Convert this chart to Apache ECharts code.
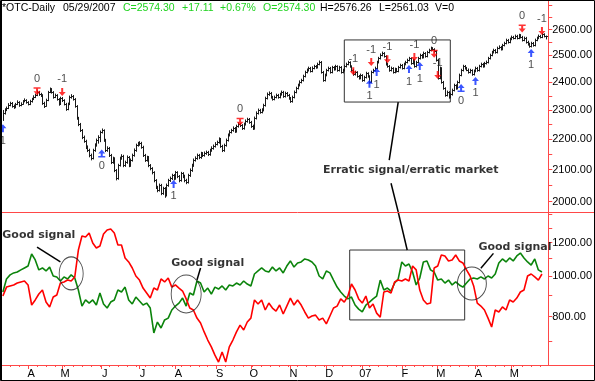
<!DOCTYPE html>
<html><head><meta charset="utf-8">
<script src="https://cdn.jsdelivr.net/npm/echarts@6/dist/echarts.min.js"></script>
<style>html,body{margin:0;padding:0;background:#fff;}#c{width:595px;height:381px;}</style>
</head><body><div id="c"></div>
<script>
// ---------- DATA ----------
// daily sessions, 2006-03 .. 2007-05-29 (index = session number)
const closes = [
2289,2300,2307,2317,2324,2314,2310,2321,2328,2317,
2321,2331,2335,2328,2321,2331,2339,2346,2353,2364,
2356,2353,2324,2314,2335,2364,2375,2364,2346,2353,
2339,2321,2342,2335,2321,2303,2321,2346,2349,2339,
2314,2272,2251,2230,2207,2194,2174,2163,2147,2137,
2163,2180,2197,2207,2224,2230,2197,2163,2170,2147,
2124,2137,2098,2072,2114,2137,2144,2114,2124,2140,
2114,2131,2147,2163,2180,2184,2187,2174,2147,2131,
2140,2114,2104,2091,2066,2045,2035,2051,2026,2041,
2020,2051,2066,2072,2082,2072,2091,2079,2066,2088,
2079,2066,2060,2082,2098,2114,2131,2137,2147,2140,
2153,2147,2153,2157,2150,2163,2170,2177,2184,2190,
2200,2177,2163,2180,2197,2214,2224,2230,2237,2227,
2244,2251,2247,2237,2251,2261,2268,2258,2244,2237,
2272,2289,2300,2293,2300,2317,2342,2356,2360,2346,
2339,2346,2353,2346,2356,2364,2349,2360,2353,2342,
2331,2346,2364,2378,2389,2400,2407,2422,2437,2444,
2452,2441,2452,2459,2455,2467,2474,2437,2407,2426,
2444,2452,2437,2455,2448,2459,2444,2455,2437,2444,
2459,2467,2474,2459,2444,2429,2437,2422,2415,2426,
2407,2418,2433,2422,2400,2437,2444,2452,2474,2489,
2501,2509,2497,2467,2459,2444,2452,2437,2448,2441,
2455,2463,2452,2467,2474,2482,2489,2470,2482,2459,
2474,2489,2501,2493,2509,2497,2512,2520,2528,2524,
2516,2482,2415,2452,2400,2378,2353,2364,2346,2356,
2371,2389,2378,2400,2426,2444,2459,2452,2446,2437,
2444,2429,2441,2452,2444,2459,2467,2459,2470,2474,
2489,2501,2512,2520,2512,2528,2532,2524,2539,2547,
2559,2551,2563,2571,2567,2575,2567,2578,2571,2559,
2567,2551,2543,2535,2547,2539,2559,2567,2575,2571,
2582,2575,2574.30];
const highs = [
2300,2306,2312,2324,2329,2328,2319,2325,2334,2331,
2327,2335,2341,2338,2331,2336,2343,2352,2358,2370,
2368,2361,2356,2329,2340,2368,2380,2378,2367,2358,
2356,2342,2347,2346,2338,2325,2326,2351,2356,2353,
2342,2317,2276,2255,2234,2212,2198,2179,2168,2152,
2168,2186,2202,2213,2229,2236,2233,2201,2176,2174,
2151,2142,2140,2102,2119,2142,2150,2148,2129,2146,
2144,2136,2152,2169,2185,2191,2193,2191,2178,2151,
2145,2144,2118,2108,2095,2070,2049,2056,2055,2046,
2045,2056,2071,2078,2087,2086,2096,2095,2083,2093,
2092,2084,2071,2087,2104,2119,2136,2143,2152,2151,
2158,2157,2159,2162,2161,2168,2176,2182,2190,2195,
2206,2204,2181,2185,2202,2219,2230,2235,2243,2241,
2249,2257,2255,2251,2256,2267,2273,2272,2262,2249,
2277,2295,2305,2304,2306,2322,2347,2362,2366,2364,
2350,2351,2358,2357,2361,2369,2368,2365,2364,2357,
2346,2351,2369,2383,2394,2406,2412,2427,2442,2450,
2457,2456,2458,2464,2463,2472,2480,2478,2441,2431,
2449,2457,2456,2460,2459,2464,2462,2460,2459,2449,
2464,2472,2479,2477,2462,2448,2442,2440,2426,2431,
2429,2423,2438,2436,2425,2442,2449,2457,2479,2494,
2507,2514,2512,2500,2471,2463,2457,2455,2453,2452,
2460,2468,2467,2472,2479,2487,2494,2492,2487,2486,
2479,2494,2506,2505,2514,2512,2517,2525,2533,2531,
2527,2519,2486,2457,2455,2404,2381,2369,2367,2361,
2376,2394,2392,2405,2431,2449,2464,2463,2456,2450,
2449,2447,2446,2457,2456,2464,2472,2471,2475,2480,
2494,2506,2517,2525,2524,2533,2538,2536,2544,2552,
2564,2563,2568,2576,2575,2580,2579,2583,2582,2575,
2572,2571,2556,2548,2552,2551,2564,2572,2580,2579,
2587,2585,2576.26];
const lows = [
2262,2284,2296,2303,2313,2308,2304,2306,2317,2311,
2313,2318,2327,2322,2316,2317,2326,2335,2342,2349,
2350,2346,2318,2307,2311,2331,2360,2358,2340,2342,
2333,2315,2318,2328,2316,2297,2299,2317,2340,2333,
2308,2266,2244,2224,2200,2188,2167,2157,2140,2130,
2133,2158,2175,2185,2190,2219,2191,2157,2158,2141,
2118,2119,2092,2066,2068,2110,2132,2108,2109,2119,
2108,2109,2126,2142,2158,2175,2178,2168,2141,2125,
2126,2108,2098,2085,2060,2039,2029,2031,2020,2021,
2012,2016,2046,2061,2067,2066,2068,2073,2060,2062,
2073,2060,2054,2056,2077,2093,2109,2126,2132,2134,
2135,2141,2142,2148,2144,2145,2158,2165,2172,2179,
2185,2171,2157,2158,2175,2192,2209,2219,2225,2221,
2222,2239,2241,2231,2232,2246,2256,2252,2238,2231,
2232,2267,2284,2287,2288,2295,2312,2337,2350,2340,
2333,2334,2341,2340,2341,2351,2343,2344,2347,2336,
2325,2326,2341,2359,2373,2384,2395,2402,2417,2432,
2439,2435,2436,2447,2449,2450,2462,2431,2401,2402,
2421,2439,2431,2432,2442,2443,2438,2439,2431,2432,
2439,2454,2462,2453,2438,2423,2424,2416,2409,2410,
2401,2402,2413,2416,2394,2396,2432,2439,2447,2469,
2484,2496,2491,2461,2453,2438,2439,2431,2432,2435,
2436,2450,2446,2447,2462,2469,2477,2464,2465,2453,
2454,2469,2484,2487,2488,2491,2492,2507,2515,2518,
2510,2476,2409,2410,2394,2372,2347,2348,2340,2341,
2351,2366,2372,2373,2395,2421,2439,2446,2440,2431,
2432,2423,2424,2436,2438,2439,2454,2453,2454,2465,
2469,2484,2496,2507,2506,2507,2523,2518,2519,2534,
2542,2545,2546,2558,2561,2562,2561,2562,2565,2553,
2554,2545,2537,2529,2530,2533,2534,2554,2562,2565,
2566,2569,2561.03];
// indicator lines, one reading every 2nd session
const greenLine = [
916,984,1006,1017,1022,1034,1045,1056,1128,1092,
1034,1045,1028,1050,1000,995,973,995,984,1006,
989,926,848,877,862,877,853,911,858,839,
867,877,926,916,941,877,858,891,872,853,
862,839,732,777,752,786,794,830,848,862,
886,848,911,901,973,962,916,936,906,941,
931,947,926,952,947,962,952,973,957,947,
1011,1028,1045,1028,1022,1050,1028,1045,1017,1056,
1086,1050,1074,1080,1098,1092,1080,1056,1000,984,
1028,1017,978,941,916,896,882,891,853,834,
821,853,867,882,896,978,926,936,921,962,
984,1080,1056,1068,1022,952,989,1080,1086,1034,
1022,978,984,962,978,952,968,952,941,962,
984,989,984,995,984,1000,989,1011,1074,1098,
1080,1104,1086,1116,1134,1104,1080,1062,1098,1034,
1022];
const redLine = [
896,941,947,952,962,968,973,952,853,877,
906,926,867,844,891,901,962,968,978,973,
995,1153,1245,1238,1266,1198,1166,1179,1259,1287,
1294,1266,1185,1185,1104,1080,1045,1000,978,936,
911,886,936,926,984,968,989,941,952,936,
921,882,839,830,794,773,736,704,678,648,
624,659,624,678,704,736,764,744,777,794,
877,858,877,830,862,839,825,853,812,848,
886,853,877,853,821,794,803,807,786,794,
769,803,839,848,882,867,896,957,926,882,
862,896,839,858,816,798,916,921,911,968,
978,973,984,973,1056,1034,926,877,858,862,
1045,1056,1122,1116,1086,1092,1122,1086,1074,1034,
1000,947,862,848,830,794,756,830,821,844,
830,877,867,886,916,926,1000,1011,995,978,
1011];
// signal arrows on the price panel
const sigIdx   = [0,19,33,55,95,132,195,205,204,208,214,226,229,232,240,242,255,263,289,294,300];
const sigVal   = [2237,2367,2364,2152,2055,2259,2440,2474,2394,2437,2485,2448,2493,2459,2506,2426,2378,2404,2604,2509,2594];
const sigKind  = ['buy1','sell0','sell1','buy0','buy1','sell0','sell1','sell1','buy1','buy1','sell1','buy1','sell1','buy1','sell0','sell1','buy0','buy1','sell0','buy1','sell1'];
const sigLabel = ['1','0','-1','0','1','0','-1','-1','1','1','-1','1','-1','1','0','-1','0','1','0','1','-1'];
// axis ticks
const monthTickIdx = [14,33,55,76,96,119,138,160,180,200,222,242,263,283];
const monthTickLbl = ['A','M','J','J','A','S','O','N','D','07','F','M','A','M'];
const priceLabels = [2000,2100,2200,2300,2400,2500,2600];
const priceTicks  = [2000,2050,2100,2150,2200,2250,2300,2350,2400,2450,2500,2550,2600,2650,2700];
const indLabels = [800,1000,1200];
const indTicks  = [700,800,900,1000,1100,1200,1300,1400];
const priceRange = [1968.8, 2715.5];
const indRange = [614.0, 1420.1];
// header
const headerText  = ['*OTC-Daily','05/29/2007','C=2574.30','+17.11','+0.67%','O=2574.30','H=2576.26','L=2561.03','V=0'];
const headerGreen = [false,false,true,true,true,true,false,false,false];
// annotations (session index, value)
const topBox = [[190,2559],[249,2328]];
const botBox = [[193,1153],[257,786]];
const topLines = [[[220,2328],[215,2131]], [[216,2057],[220,1968.8]]];
const botLines = [[[19,1172],[32,1080]], [[110,1045],[108,978]], [[273,1132],[266,1043]], [[220,1420.1],[225,1153]]];
const topTexts = [['Erratic signal/erratic market',227,2098]];
const botTexts = [['Good signal',20,1252],['Good signal',114,1074],['Good signal',285,1172]];
const ellipses = [[38,1014,24,33],[102,906,30,38],[261,960,29,33]];

// ---------- CHART ----------
const L = v => Math.log10(v);
const RED = '#ff4848';
const NSESS = 304;
const cats = Array.from({length: NSESS}, (_, i) => String(i));
const weekTickIdx = [];
for (let i = 14 - 5*2; i < NSESS; i += 5) if (i >= 0) weekTickIdx.push(i);

const PATHS = {
  sell1: 'path://M2.5,0L4.5,0L4.5,4L7,4L3.5,8L0,4L2.5,4Z',
  sell0: 'path://M0,0L7,0L7,1.6L4.5,1.6L4.5,4L7,4L3.5,8L0,4L2.5,4L2.5,1.6L0,1.6Z',
  buy1:  'path://M3.5,0L7,4L4.5,4L4.5,8L2.5,8L2.5,4L0,4Z',
  buy0:  'path://M3.5,0L7,4L4.5,4L4.5,6.4L7,6.4L7,8L0,8L0,6.4L2.5,6.4L2.5,4L0,4Z'
};
const sigData = sigIdx.map((x, j) => {
  const sell = sigKind[j].startsWith('sell');
  return {
    value: [x, L(sigVal[j])],
    symbol: PATHS[sigKind[j]],
    itemStyle: {color: sell ? '#ff0000' : '#0a2cff'},
    label: {show: true, formatter: sigLabel[j], position: sell ? 'top' : 'bottom', distance: 3,
            fontSize: 11, color: '#222', fontFamily: 'Liberation Sans, Arial'}
  };
});

const textLabel = {show: true, position: 'inside', fontFamily: 'DejaVu Sans', fontWeight: 'bold', fontSize: 11, color: '#000'};

const chart = echarts.init(document.getElementById('c'), null, {renderer: 'canvas'});
const graphics = [];
let hx = [2, 63, 123, 182, 220, 263, 320, 379, 435];
headerText.forEach((t, k) => graphics.push({type: 'text', left: hx[k], top: 3, z: 100,
  style: {text: t, fill: headerGreen[k] ? '#1ed21e' : '#000', font: '10.5px "Liberation Sans", Arial'}}));
graphics.push({type: 'line', shape: {x1: 0, y1: 212.5, x2: 595, y2: 212.5}, style: {stroke: RED, lineWidth: 1}, z: 50});
graphics.push({type: 'line', shape: {x1: 0, y1: 365.5, x2: 595, y2: 365.5}, style: {stroke: RED, lineWidth: 1}, z: 50});
graphics.push({type: 'rect', shape: {x: 0.5, y: 0.5, width: 594, height: 380}, style: {fill: null, stroke: '#000', lineWidth: 1}, z: 60});
graphics.push({type: 'line', shape: {x1: 1.5, y1: 0, x2: 1.5, y2: 381}, style: {stroke: '#000', lineWidth: 1}, z: 60});

const option = {
  animation: false,
  backgroundColor: '#fff',
  grid: [
    {left: 2, right: 46, top: 1, height: 211},
    {left: 2, right: 46, top: 212, height: 153}
  ],
  xAxis: [
    {gridIndex: 0, type: 'category', data: cats, boundaryGap: true, show: false},
    {gridIndex: 1, type: 'category', data: cats, boundaryGap: true, position: 'bottom',
     axisLine: {show: true, lineStyle: {color: RED}},
     axisTick: {show: true, alignWithLabel: true, length: 4, lineStyle: {color: RED},
                interval: (i) => monthTickIdx.indexOf(i) >= 0},
     axisLabel: {show: true, interval: (i) => monthTickIdx.indexOf(i) >= 0, margin: 3,
                 formatter: (v) => monthTickLbl[monthTickIdx.indexOf(+v)] || '',
                 color: '#000', fontSize: 11, fontFamily: 'Liberation Sans, Arial', padding: [0, 0, 0, 6]},
     splitLine: {show: false}},
    {gridIndex: 1, type: 'category', data: cats, boundaryGap: true, position: 'bottom',
     axisLine: {show: false},
     axisTick: {show: true, alignWithLabel: true, length: 2, lineStyle: {color: RED},
                interval: (i) => weekTickIdx.indexOf(i) >= 0},
     axisLabel: {show: false}, splitLine: {show: false}}
  ],
  yAxis: [
    {gridIndex: 0, type: 'value', position: 'right', min: L(priceRange[0]), max: L(priceRange[1]),
     axisLine: {show: true, lineStyle: {color: RED}}, splitLine: {show: false},
     axisTick: {show: true, length: 4, lineStyle: {color: RED}, customValues: priceTicks.map(L)},
     axisLabel: {show: true, customValues: priceLabels.map(L), margin: 4, color: '#000', fontSize: 11,
                 fontFamily: 'Liberation Sans, Arial', formatter: v => Math.round(Math.pow(10, v)).toFixed(2)}},
    {gridIndex: 1, type: 'value', position: 'right', min: L(indRange[0]), max: L(indRange[1]),
     axisLine: {show: true, lineStyle: {color: RED}}, splitLine: {show: false},
     axisTick: {show: true, length: 4, lineStyle: {color: RED}, customValues: indTicks.map(L)},
     axisLabel: {show: true, customValues: indLabels.map(L), margin: 4, color: '#000', fontSize: 11,
                 fontFamily: 'Liberation Sans, Arial', formatter: v => Math.round(Math.pow(10, v)).toFixed(2)}}
  ],
  graphic: graphics,
  series: [
    {type: 'custom', xAxisIndex: 0, yAxisIndex: 0, z: 3,
     data: closes.map((c, i) => [i, L(highs[i]), L(lows[i]), L(c)]),
     encode: {x: 0, y: [1, 2, 3]},
     renderItem: (params, api) => {
       const i = api.value(0);
       const pH = api.coord([i, api.value(1)]);
       const pL = api.coord([i, api.value(2)]);
       const pC = api.coord([i, api.value(3)]);
       const x = Math.round(pH[0]) + 0.5;
       const yc = Math.round(pC[1]) + 0.5;
       return {type: 'group', children: [
         {type: 'line', shape: {x1: x, y1: pH[1], x2: x, y2: pL[1]}, style: {stroke: '#1a1a1a', lineWidth: 1}},
         {type: 'line', shape: {x1: x, y1: yc, x2: x + 1.5, y2: yc}, style: {stroke: '#1a1a1a', lineWidth: 1}}
       ]};
     }},
    {type: 'scatter', xAxisIndex: 0, yAxisIndex: 0, z: 5, symbolSize: [7, 8], data: sigData, clip: false},
    {type: 'scatter', xAxisIndex: 0, yAxisIndex: 0, z: 6, clip: false, symbolSize: 0,
     data: topTexts.map(t => ({value: [t[1], L(t[2])], label: Object.assign({formatter: t[0]}, textLabel)})),
     markArea: {silent: true, itemStyle: {color: 'rgba(0,0,0,0)', borderColor: '#333', borderWidth: 1},
                data: [[{coord: [topBox[0][0], L(topBox[0][1])]}, {coord: [topBox[1][0], L(topBox[1][1])]}]]},
     markLine: {silent: true, symbol: ['none', 'none'], label: {show: false},
                lineStyle: {color: '#000', width: 1.5, type: 'solid'},
                data: topLines.map(s => [{coord: [s[0][0], L(s[0][1])]}, {coord: [s[1][0], L(s[1][1])]}])}},
    {type: 'line', xAxisIndex: 1, yAxisIndex: 1, z: 3, showSymbol: false, symbol: 'none',
     lineStyle: {color: '#0b840b', width: 1.6}, data: greenLine.map((v, k) => [2 * k, L(v)])},
    {type: 'line', xAxisIndex: 1, yAxisIndex: 1, z: 4, showSymbol: false, symbol: 'none',
     lineStyle: {color: '#ff0000', width: 1.6}, data: redLine.map((v, k) => [2 * k, L(v)])},
    {type: 'scatter', xAxisIndex: 1, yAxisIndex: 1, z: 6, clip: false,
     data: botTexts.map(t => ({value: [t[1], L(t[2])], symbolSize: 0, label: Object.assign({formatter: t[0]}, textLabel)}))
       .concat(ellipses.map(e => ({value: [e[0], L(e[1])], symbol: 'circle', symbolSize: [e[2], e[3]],
         itemStyle: {color: 'rgba(0,0,0,0)', borderColor: '#222', borderWidth: 1}, label: {show: false}}))),
     markArea: {silent: true, itemStyle: {color: 'rgba(0,0,0,0)', borderColor: '#333', borderWidth: 1},
                data: [[{coord: [botBox[0][0], L(botBox[0][1])]}, {coord: [botBox[1][0], L(botBox[1][1])]}]]},
     markLine: {silent: true, symbol: ['none', 'none'], label: {show: false},
                lineStyle: {color: '#000', width: 1.5, type: 'solid'},
                data: botLines.map(s => [{coord: [s[0][0], L(s[0][1])]}, {coord: [s[1][0], L(s[1][1])]}])}}
  ]
};
chart.setOption(option);
</script></body></html>
